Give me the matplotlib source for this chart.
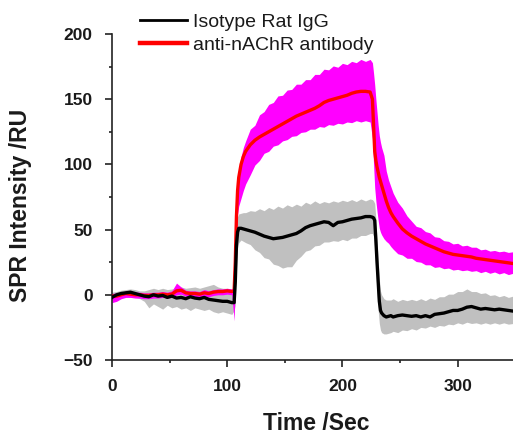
import matplotlib
matplotlib.use("Agg")
import matplotlib.pyplot as plt
from matplotlib.lines import Line2D

plt.rcParams['font.family'] = ['Liberation Sans', 'DejaVu Sans']

# ---------------- data ----------------
time_s = [0, 4, 8, 12, 16, 20, 24, 28, 32, 36, 40, 44, 48, 52, 56, 60, 64, 68, 72, 76, 80, 84, 88, 92, 96, 100, 104,
          106, 107, 108, 109, 110, 112, 114,
          116, 120, 124, 128, 132, 136, 140, 144, 148, 152, 156, 160, 164, 168, 172, 176, 180, 184, 188, 192, 196, 200,
          204, 208, 212, 216, 220, 224,
          226, 227, 228, 229, 230, 231, 232, 233, 234, 236, 238, 240, 242,
          244, 248, 252, 256, 260, 264, 268, 272, 276, 280, 284, 288, 292, 296, 300, 304, 308, 312, 316, 320, 324, 328,
          332, 336, 340, 344, 348]

anti_mean = [-1, -1, 0, 1, 0.5, 0, 0, -0.5, -0.5, 0, 0, 0.5, 0, 0.5, 3, 3.5, 1.5, 1, 1, 0.5, 1.5, 1, 2, 2.5, 2.5, 3, 2.5,
             3, 25, 60, 80, 90, 100, 106,
             110, 115, 118.5, 121, 123, 125, 127, 129, 131, 133, 135, 137, 138.5, 140, 141.5, 143, 145, 147.5, 149, 150,
             151, 152, 153, 154.5, 155.5, 156, 156, 155.5,
             150, 130, 110, 103, 98, 94, 90, 87, 84, 78, 72, 67, 63,
             60, 55, 50.5, 47.5, 45, 43, 41, 39, 37.5, 36, 34.5, 33, 32, 31, 30.5, 30, 29.5, 29, 28, 27.5, 27, 26.5,
             26, 25.5, 25, 24.5, 24]

anti_upper = [1, 1.5, 2, 3, 2.5, 2, 2, 1.5, 1.5, 2, 2, 2.5, 2, 3, 9, 6, 3.5, 3, 3, 2.5, 4, 3, 4, 4.5, 4.5, 5, 4.5,
              5, 40, 72, 88, 96, 106, 113,
              118, 127, 130, 138, 140.5, 146, 147.5, 152.5, 153, 157, 157.5, 161.5, 161.5, 165, 165, 169, 169, 173,
              172.5, 175.5, 174.5, 177.5, 176.5, 179, 178, 180.5, 179, 180.5,
              178, 170, 161, 150, 140, 130, 122, 117, 113, 107, 95, 88, 83,
              78, 71, 66.5, 60.5, 56.5, 52.5, 51.5, 48.5, 47.5, 44.5, 44, 41.5, 41, 39, 39.5, 37.5, 38, 36.5, 36.5,
              34.5, 35, 33.5, 34, 33, 33.5, 32.5, 33]

anti_lower = [-6, -5, -3, -2, -2, -2.5, -2.5, -3, -3, -2.5, -2.5, -2, -2.5, -2, 0, 0.5, -1, -1.5, -1.5, -2, -1, -1.5,
              -0.5, 0, 0, 0.5, 0,
              -20, 10, 45, 62, 68, 74, 80,
              85, 92, 99.5, 103, 108.5, 110, 114, 115, 118, 119, 121.5, 122, 124.5, 125, 127, 127, 129, 128.5, 130.5,
              130, 131.5, 131, 132.5, 132, 133.5, 132.5, 133.5, 132.5,
              120, 100, 82, 72, 64, 57, 51, 48, 46, 43, 41, 39.5, 37,
              35, 31.5, 30.5, 28, 28, 25.5, 25, 23, 23, 21, 21.5, 20, 20.5, 19, 19.5, 18.5, 19, 18, 18.5, 17, 18,
              16.5, 17.5, 16, 17, 15.5, 16.5]

iso_mean = [-2, 0, 1, 1.5, 2, 1, 0, -1, -1.5, 0, -1, -0.5, -2, -1, -2.5, -2, -3, -1.5, -2.5, -3, -2, -3.5, -4, -4.5,
            -5, -5, -6,
            -6, 10, 38, 48, 51, 51, 50.5,
            50, 49, 48, 46.5, 45, 44, 43, 43.5, 44, 45, 46, 47, 49, 51.5, 53, 54, 55, 56, 55.5, 53, 55.5, 56, 57, 58,
            58.5, 59, 60, 60,
            59.5, 59, 57, 42, 25, 10, -5, -12, -14, -16, -17, -16.5, -16,
            -17, -16, -15.5, -16, -16.5, -16, -17, -16, -17, -15, -14.5, -14, -13, -12, -12, -11, -9.5, -9, -10, -11,
            -10.5, -11, -11.5, -11, -11.5, -12, -12.5]

iso_upper = [2, 2.5, 3.5, 4, 4.5, 4, 3, 3, 4, 5, 4, 5, 4, 4.5, 5, 6, 5, 5.5, 6, 5, 6, 7, 8, 6, 5, 5, 4,
             4, 25, 55, 60, 62, 62.5, 63,
             63, 64.5, 64, 66, 64.5, 67, 65.5, 68, 66.5, 69, 67.5, 69.5, 68, 71, 69.5, 72, 70, 71.5, 70.5, 72, 71,
             72.5, 71.5, 73, 71.5, 73.5, 72, 73.5,
             73, 72, 70, 58, 42, 27, 12, 3, 0, -3, -4, -4, -4,
             -3, -5, -3.5, -4.5, -3.5, -4.5, -3, -4.5, -2.5, -3.5, -1.5, -1.5, 0.5, 0.5, 2.5, 2.5, 4.5, 2.5, 2.5, 1,
             1.5, -0.5, 0, -1.5, -0.5, -2, -1]

iso_lower = [-4, -3, -2, -1.5, -1, -2, -3, -5, -10, -7, -9, -11, -8, -10, -9, -11, -10, -12, -10, -11, -12, -11, -13,
             -14, -13, -14, -15,
             -12, -8, 20, 36, 40, 42, 41,
             40, 38.5, 34.5, 32.5, 28.5, 27.5, 23.5, 22.5, 20.5, 21.5, 21.5, 26.5, 29.5, 33.5, 34.5, 37.5, 38, 40.5,
             40.5, 41.5, 41, 42.5, 41.5, 43.5, 43.5, 45.5, 45.5, 47,
             47, 45, 35, 18, 2, -12, -22, -27, -29, -30, -30, -29.5, -29,
             -28, -29, -27, -27.5, -26, -27, -25, -25.5, -24, -25, -23.5, -24, -22.5, -23, -21.5, -22.5, -21, -22,
             -21.5, -22.5, -21.5, -22.5, -21.5, -22.5, -21.5, -22.5, -22]

series_labels = ['Isotype Rat IgG', 'anti-nAChR antibody']
x_ticks = [0, 100, 200, 300]
y_ticks = [-50, 0, 50, 100, 150, 200]

for arr in (anti_mean, anti_upper, anti_lower, iso_mean, iso_upper, iso_lower):
    assert len(arr) == len(time_s), len(arr)

# ---------------- figure ----------------
fig = plt.figure(figsize=(5.13, 4.34), dpi=100)
ax = fig.add_axes([0.2183, 0.1705, 0.7817, 0.7512])

ax.fill_between(time_s, iso_lower, iso_upper, color='#c0c0c0', linewidth=0, zorder=1)
ax.fill_between(time_s, anti_lower, anti_upper, color='#ff00ff', linewidth=0, zorder=2)
ax.plot(time_s, anti_mean, color='#ff0000', lw=2.4, zorder=3, solid_joinstyle='round')
ax.plot(time_s, iso_mean, color='black', lw=2.4, zorder=4, solid_joinstyle='round')

ax.set_xlim(0, 348)
ax.set_ylim(-50, 200)
ax.set_xticks(x_ticks)
ax.set_yticks(y_ticks)
ax.set_xticks([50, 150, 250], minor=True)
ax.set_yticks([-25, 25, 75, 125, 175], minor=True)

for s in ('top', 'right'):
    ax.spines[s].set_visible(False)
for s in ('left', 'bottom'):
    ax.spines[s].set_linewidth(1.2)
    ax.spines[s].set_color('#222222')

ax.tick_params(which='major', direction='out', length=5, width=1.2, pad=9, labelsize=12.5, colors='#222222')
ax.tick_params(which='minor', direction='out', length=2.5, width=1.2, colors='#222222')
for lab in ax.get_xticklabels() + ax.get_yticklabels():
    lab.set_fontweight('bold')
    lab.set_color('#1a1a1a')

ax.set_xlabel('Time /Sec', fontsize=16.5, fontweight='bold', color='#1a1a1a')
ax.set_ylabel('SPR Intensity /RU', fontsize=16.5, fontweight='bold', color='#1a1a1a')
ax.xaxis.set_label_coords(0.5087, -0.158)
ax.yaxis.set_label_coords(-0.200, 0.4755)

handles = [Line2D([], [], color='black', lw=2.0),
           Line2D([], [], color='#ff0000', lw=3.2)]
fig.legend(handles, series_labels, loc='upper left', bbox_to_anchor=(0.2729, 0.970),
           frameon=False, fontsize=14, handlelength=2.42, handletextpad=0.3,
           labelspacing=0.28, borderpad=0, borderaxespad=0, labelcolor='#1a1a1a')

fig.savefig('out.png', dpi=100)
